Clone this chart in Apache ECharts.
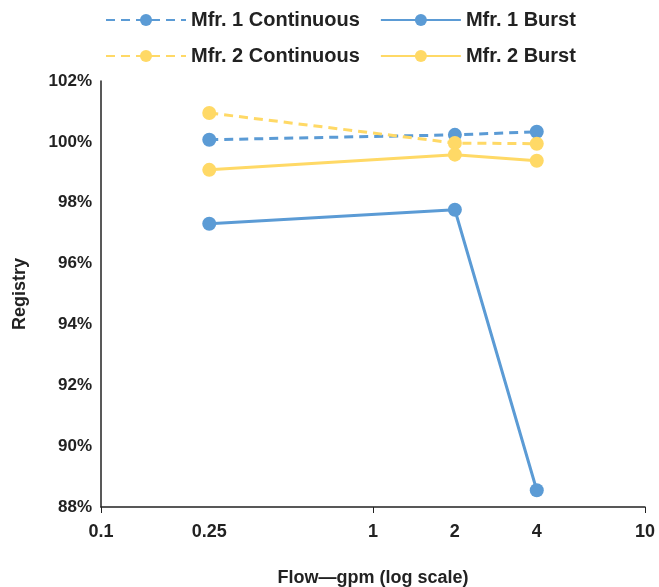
<!DOCTYPE html>
<html>
<head>
<meta charset="utf-8">
<script src="https://cdn.jsdelivr.net/npm/echarts@6/dist/echarts.min.js"></script>
<style>
    html, body { margin: 0; padding: 0; background: #fff; }
    #main { width: 659px; height: 587px; }
</style>
</head>
<body>
<div id="main"></div>
<script>
// flow values (gpm)
var flows = [0.25, 2, 4];
var xLabelValues = [0.1, 0.25, 1, 2, 4, 10];
var xTickValues = [0.1, 1, 10];

// registry, percent
var mfr1Continuous = [100.07, 100.23, 100.33];
var mfr1Burst = [97.31, 97.77, 88.55];
var mfr2Continuous = [100.95, 99.96, 99.94];
var mfr2Burst = [99.08, 99.58, 99.38];

var blue = '#5B9BD5';
var yellow = '#FFD966';

function pairs(vals) {
    var out = [];
    for (var i = 0; i < flows.length; i++) {
        out.push([flows[i], vals[i]]);
    }
    return out;
}

function makeSeries(name, vals, color, dashed) {
    return {
        name: name,
        type: 'line',
        data: pairs(vals),
        symbol: 'circle',
        symbolSize: 14,
        itemStyle: { color: color },
        lineStyle: { color: color, width: 3, type: dashed ? [9, 6] : 'solid' },
        emphasis: { disabled: true },
        animation: false
    };
}

var font = 'Liberation Sans, Arial, sans-serif';

function legendRow(top, names) {
    return {
        left: 100,
        top: top,
        itemWidth: 80,
        itemHeight: 15,
        itemGap: 20,
        textStyle: { fontSize: 20, fontWeight: 'bold', color: '#222', fontFamily: font },
        data: names
    };
}

var option = {
    textStyle: { fontFamily: font },
    legend: [
        legendRow(5, ['Mfr. 1 Continuous', 'Mfr. 1 Burst']),
        legendRow(41, ['Mfr. 2 Continuous', 'Mfr. 2 Burst'])
    ],
    grid: {
        left: 101,
        right: 14,
        top: 81,
        bottom: 80,
        containLabel: false,
        outerBoundsMode: 'none'
    },
    xAxis: {
        type: 'log',
        logBase: 10,
        min: 0.1,
        max: 10,
        name: 'Flow\u2014gpm (log scale)',
        nameLocation: 'middle',
        nameGap: 62,
        nameTextStyle: { fontSize: 18, fontWeight: 'bold', color: '#222' },
        axisLine: { lineStyle: { color: '#222', width: 1.5 } },
        axisTick: { show: true, length: 6, customValues: xTickValues, lineStyle: { color: '#222' } },
        axisLabel: {
            customValues: xLabelValues,
            margin: 16,
            fontSize: 18,
            fontWeight: 'bold',
            color: '#222',
            formatter: function (v) { return String(+v.toFixed(2)); }
        },
        splitLine: { show: false },
        minorTick: { show: false },
        minorSplitLine: { show: false }
    },
    yAxis: {
        type: 'value',
        min: 88,
        max: 102,
        interval: 2,
        name: 'Registry',
        nameLocation: 'middle',
        nameGap: 72,
        nameRotate: 90,
        nameTextStyle: { fontSize: 18, fontWeight: 'bold', color: '#222' },
        axisLine: { show: true, lineStyle: { color: '#222', width: 1.5 } },
        axisTick: { show: false },
        axisLabel: {
            margin: 9,
            fontSize: 17,
            fontWeight: 'bold',
            color: '#222',
            formatter: '{value}%'
        },
        splitLine: { show: false }
    },
    series: [
        makeSeries('Mfr. 1 Continuous', mfr1Continuous, blue, true),
        makeSeries('Mfr. 1 Burst', mfr1Burst, blue, false),
        makeSeries('Mfr. 2 Continuous', mfr2Continuous, yellow, true),
        makeSeries('Mfr. 2 Burst', mfr2Burst, yellow, false)
    ]
};

var myChart = echarts.init(document.getElementById('main'));
myChart.setOption(option);
</script>
</body>
</html>
